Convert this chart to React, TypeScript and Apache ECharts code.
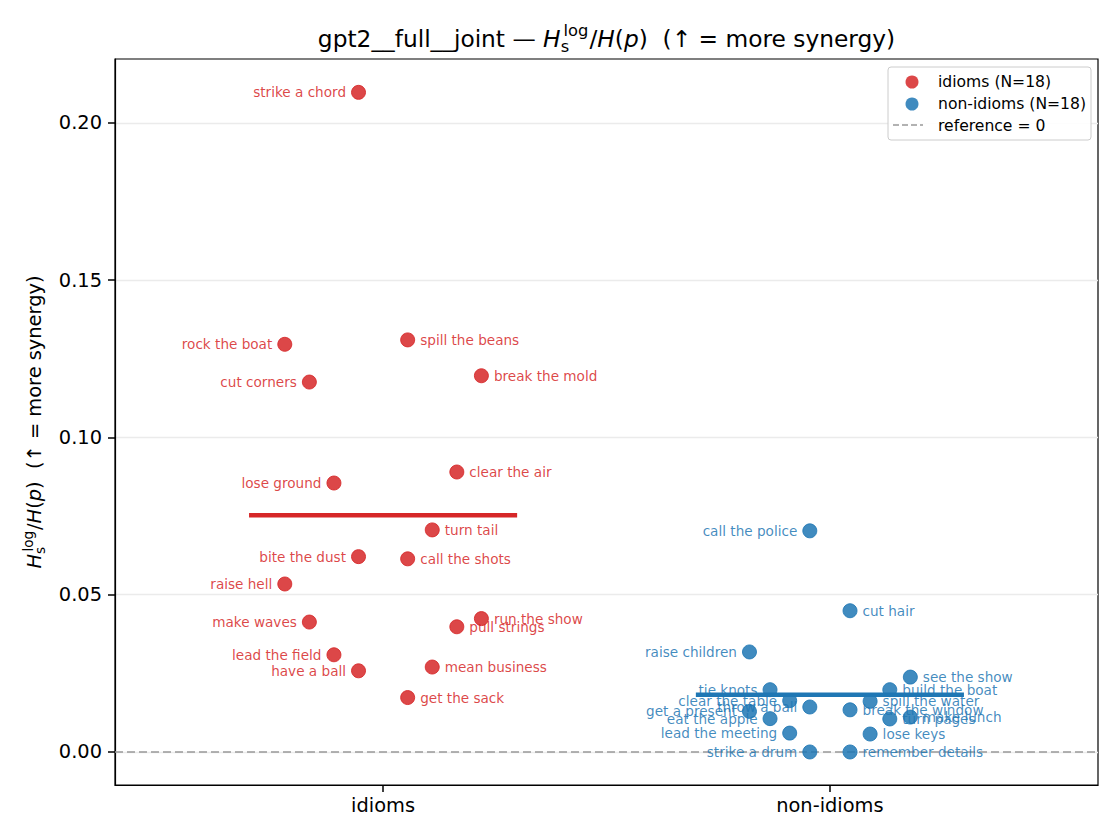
import React, { useEffect, useRef } from "react";
import * as echarts from "echarts";

const CATEGORIES = ["idioms", "non-idioms"];
const Y_TICKS = [0, 0.05, 0.1, 0.15, 0.2];
const X_MIN = -0.6;
const X_MAX = 1.6;
const Y_MIN = -0.0105;
const Y_MAX = 0.2203;

const IDIOM_LABELS = [
  "strike a chord", "rock the boat", "spill the beans", "break the mold", "cut corners",
  "clear the air", "lose ground", "turn tail", "bite the dust", "call the shots",
  "raise hell", "make waves", "run the show", "pull strings", "lead the field",
  "have a ball", "mean business", "get the sack",
];
const IDIOM_JITTER = [
  -0.055, -0.22, 0.055, 0.22, -0.165, 0.165, -0.11, 0.11, -0.055, 0.055,
  -0.22, -0.165, 0.22, 0.165, -0.11, -0.055, 0.11, 0.055,
];
const IDIOM_VALUES = [
  0.2097, 0.1296, 0.131, 0.1196, 0.1176, 0.089, 0.0855, 0.0706, 0.0621, 0.0614,
  0.0534, 0.0413, 0.0424, 0.0398, 0.0309, 0.0258, 0.027, 0.0173,
];

const NONIDIOM_LABELS = [
  "call the police", "cut hair", "raise children", "see the show", "tie knots",
  "build the boat", "clear the table", "spill the water", "throw a ball", "break the window",
  "get a present", "eat the apple", "turn pages", "make lunch", "lead the meeting",
  "lose keys", "strike a drum", "remember details",
];
const NONIDIOM_JITTER = [
  -0.045, 0.045, -0.18, 0.18, -0.134, 0.134, -0.09, 0.09, -0.045, 0.045,
  -0.18, -0.134, 0.134, 0.18, -0.09, 0.09, -0.045, 0.045,
];
const NONIDIOM_VALUES = [
  0.0703, 0.0449, 0.0318, 0.0238, 0.0198, 0.0198, 0.0163, 0.0161, 0.0143, 0.0134,
  0.0129, 0.0106, 0.0105, 0.0111, 0.006, 0.0057, 0, 0,
];

const LEGEND_LABELS = ["idioms (N=18)", "non-idioms (N=18)", "reference = 0"];

const RED = "#d62728";
const BLUE = "#1f77b4";
const FONT = "DejaVu Sans";
const NB = "\u00a0";

let measureCtx: CanvasRenderingContext2D | null = null;
function textWidth(t: string, size: number, italic: boolean): number {
  if (!measureCtx) measureCtx = document.createElement("canvas").getContext("2d");
  if (!measureCtx) return t.length * size * 0.6;
  measureCtx.font = `${italic ? "italic " : ""}${size}px "${FONT}"`;
  return measureCtx.measureText(t).width;
}

type Tok = { t: string; it?: boolean } | { sup: string; sub: string };

function mathRun(tokens: Tok[], S: number, color: string) {
  const children: any[] = [];
  let x = 0;
  const mk = (t: string, px: number, baseline: number, size: number, it: boolean) => ({
    type: "text",
    x: px,
    y: baseline - 0.346 * size,
    silent: true,
    style: {
      text: t,
      fontSize: size,
      fontFamily: FONT,
      fontStyle: it ? "italic" : "normal",
      fill: color,
      align: "left",
      verticalAlign: "middle",
    },
  });
  for (const tok of tokens) {
    if ("sup" in tok) {
      const s = S * 0.7;
      const wSup = textWidth(tok.sup, s, false);
      const wSub = textWidth(tok.sub, s, false);
      children.push(mk(tok.sup, x + S * 0.12, -S * 0.45, s, false));
      children.push(mk(tok.sub, x, S * 0.2, s, false));
      x += Math.max(wSup + S * 0.12, wSub) + S * 0.05;
    } else {
      children.push(mk(tok.t, x, 0, S, !!tok.it));
      x += textWidth(tok.t, S, !!tok.it);
    }
  }
  return { children, width: x };
}

function buildPoints(labels: string[], jitter: number[], values: number[], center: number) {
  return values.map((v, i) => ({
    value: [center + jitter[i], v],
    name: labels[i],
    label: { position: jitter[i] < 0 ? "left" : "right" },
  }));
}

function mean(a: number[]) {
  return a.reduce((s, v) => s + v, 0) / a.length;
}

export default function App() {
  const ref = useRef<HTMLDivElement>(null);
  useEffect(() => {
    if (!ref.current) return;
    const chart = echarts.init(ref.current, null, { renderer: "svg" });

    const gridLeft = 115;
    const gridRight = 22;
    const gridTop = 59;
    const gridBottom = 55;
    const W = 1120;
    const H = 840;
    const axCenterX = (gridLeft + (W - gridRight)) / 2;
    const axCenterY = (gridTop + (H - gridBottom)) / 2;

    const titleS = 23.3;
    const title = mathRun(
      [
        { t: "gpt2__full__joint — " },
        { t: "H", it: true },
        { sup: "log", sub: "s" },
        { t: "/" },
        { t: "H", it: true },
        { t: "(" },
        { t: "p", it: true },
        { t: ")" },
        { t: NB + NB + "(↑ = more synergy)" },
      ],
      titleS,
      "#000"
    );
    const ylabS = 19.4;
    const ylab = mathRun(
      [
        { t: "H", it: true },
        { sup: "log", sub: "s" },
        { t: "/" },
        { t: "H", it: true },
        { t: "(" },
        { t: "p", it: true },
        { t: ")" },
        { t: NB + NB + "(↑ = more synergy)" },
      ],
      ylabS,
      "#000"
    );

    const legendFS = 15.6;
    const legendText = (t: string, y: number) => ({
      type: "text",
      x: 938,
      y,
      z: 101,
      silent: true,
      style: {
        text: t,
        fontSize: legendFS,
        fontFamily: FONT,
        fill: "#000",
        align: "left",
        verticalAlign: "middle",
      },
    });

    const labelStyle = (color: string) => ({
      show: true,
      formatter: (p: any) => p.name,
      fontSize: 13.6,
      fontFamily: FONT,
      color,
      distance: 5,
    });

    const option: any = {
      animation: false,
      backgroundColor: "#ffffff",
      grid: {
        left: gridLeft,
        right: gridRight,
        top: gridTop,
        bottom: gridBottom,
        show: true,
        borderColor: "#000",
        borderWidth: 1.2,
        backgroundColor: "transparent",
        containLabel: false,
        outerBoundsMode: "none",
      },
      xAxis: {
        type: "value",
        min: X_MIN,
        max: X_MAX,
        axisLine: { show: true, onZero: false, lineStyle: { color: "#000", width: 1.2 } },
        axisTick: {
          show: true,
          customValues: [0, 1],
          length: 7,
          inside: false,
          lineStyle: { color: "#000", width: 1.5 },
        },
        axisLabel: {
          customValues: [0, 1],
          formatter: (v: number) => CATEGORIES[Math.round(v)] ?? "",
          fontSize: 19.4,
          fontFamily: FONT,
          color: "#000",
          margin: 11,
        },
        splitLine: { show: false },
      },
      yAxis: {
        type: "value",
        min: Y_MIN,
        max: Y_MAX,
        axisLine: { show: true, onZero: false, lineStyle: { color: "#000", width: 1.2 } },
        axisTick: {
          show: true,
          customValues: Y_TICKS,
          length: 7,
          inside: false,
          lineStyle: { color: "#000", width: 1.5 },
        },
        axisLabel: {
          customValues: Y_TICKS,
          formatter: (v: number) => v.toFixed(2),
          fontSize: 19.4,
          fontFamily: FONT,
          color: "#000",
          margin: 13,
        },
        splitLine: { show: true, lineStyle: { color: "#ebebeb", width: 1.3 } },
      },
      series: [
        {
          type: "line",
          name: LEGEND_LABELS[2],
          data: [
            [X_MIN, 0],
            [X_MAX, 0],
          ],
          symbol: "none",
          silent: true,
          z: 1,
          lineStyle: { color: "#999999", width: 1.5, type: [8, 4] },
        },
        {
          type: "scatter",
          name: LEGEND_LABELS[0],
          data: buildPoints(IDIOM_LABELS, IDIOM_JITTER, IDIOM_VALUES, 0),
          symbolSize: 14,
          z: 3,
          itemStyle: { color: RED, opacity: 0.85, borderColor: RED, borderWidth: 1 },
          label: labelStyle(RED),
          emphasis: { disabled: true },
        },
        {
          type: "scatter",
          name: LEGEND_LABELS[1],
          data: buildPoints(NONIDIOM_LABELS, NONIDIOM_JITTER, NONIDIOM_VALUES, 1),
          symbolSize: 14,
          z: 3,
          itemStyle: { color: BLUE, opacity: 0.85, borderColor: BLUE, borderWidth: 1 },
          label: labelStyle(BLUE),
          emphasis: { disabled: true },
        },
        {
          type: "line",
          data: [
            [0 - 0.3, mean(IDIOM_VALUES)],
            [0 + 0.3, mean(IDIOM_VALUES)],
          ],
          symbol: "none",
          silent: true,
          z: 4,
          lineStyle: { color: RED, width: 4.5 },
        },
        {
          type: "line",
          data: [
            [1 - 0.3, mean(NONIDIOM_VALUES)],
            [1 + 0.3, mean(NONIDIOM_VALUES)],
          ],
          symbol: "none",
          silent: true,
          z: 4,
          lineStyle: { color: BLUE, width: 4.5 },
        },
      ],
      graphic: [
        {
          type: "group",
          x: axCenterX - title.width / 2,
          y: 47,
          children: title.children,
        },
        {
          type: "group",
          x: 41,
          y: axCenterY,
          rotation: Math.PI / 2,
          children: ylab.children.map((c: any) => ({ ...c, x: c.x - ylab.width / 2 })),
        },
        {
          type: "group",
          z: 100,
          children: [
            {
              type: "rect",
              z: 100,
              shape: { x: 888, y: 67, width: 203, height: 73, r: 3 },
              style: { fill: "rgba(255,255,255,0.9)", stroke: "#cccccc", lineWidth: 1 },
              silent: true,
            },
            {
              type: "circle",
              z: 101,
              shape: { cx: 912, cy: 82, r: 6.5 },
              style: { fill: RED, opacity: 0.85 },
              silent: true,
            },
            legendText(LEGEND_LABELS[0], 82),
            {
              type: "circle",
              z: 101,
              shape: { cx: 912, cy: 104, r: 6.5 },
              style: { fill: BLUE, opacity: 0.85 },
              silent: true,
            },
            legendText(LEGEND_LABELS[1], 104),
            {
              type: "line",
              z: 101,
              shape: { x1: 893, y1: 125, x2: 923, y2: 125 },
              style: { stroke: "#999999", lineWidth: 1.5, lineDash: [6, 3] },
              silent: true,
            },
            legendText(LEGEND_LABELS[2], 125.5),
          ],
        },
      ],
    };

    chart.setOption(option);
    return () => chart.dispose();
  }, []);

  return (
    <div
      ref={ref}
      style={{ position: "absolute", left: 0, top: 0, width: 1120, height: 840, background: "#fff" }}
    />
  );
}
